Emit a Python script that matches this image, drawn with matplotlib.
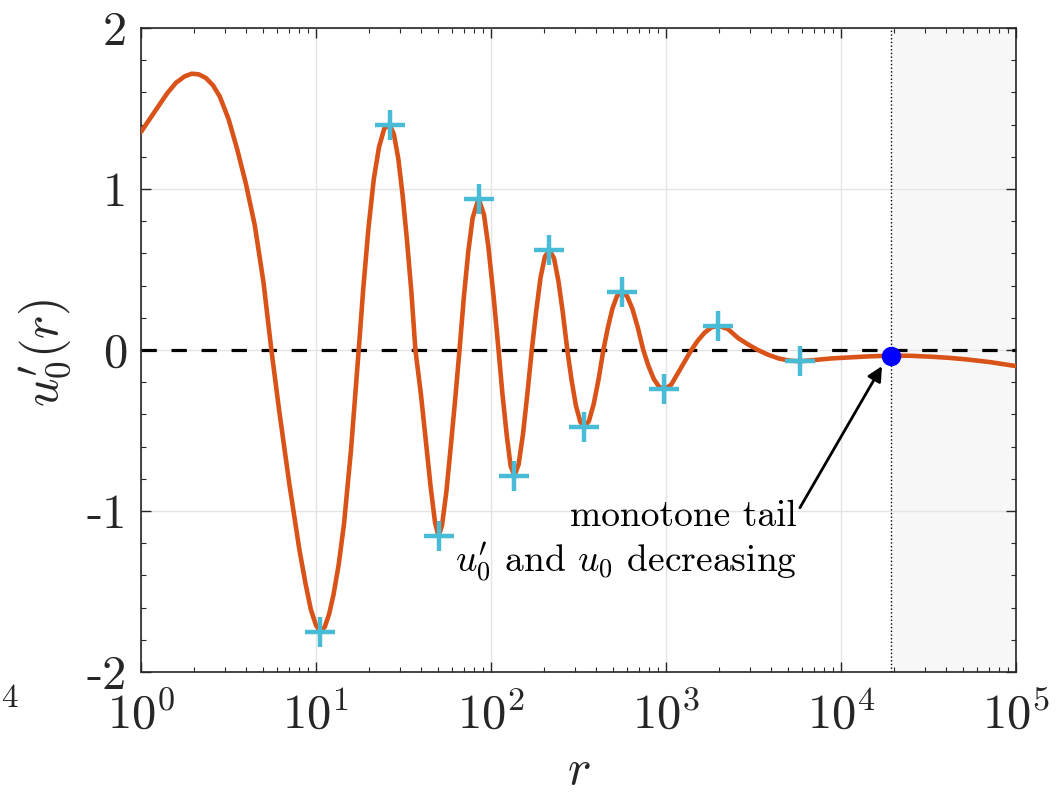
import numpy as np
import matplotlib
matplotlib.use("Agg")
import matplotlib.pyplot as plt
from matplotlib.ticker import LogLocator, MultipleLocator, NullFormatter

plt.rcParams['font.family'] = 'serif'
plt.rcParams['font.serif'] = ['cmr10']
plt.rcParams['mathtext.fontset'] = 'cm'
plt.rcParams['axes.formatter.use_mathtext'] = True
plt.rcParams['axes.unicode_minus'] = False

# curve u0'(r) (log10 r, value)
log_r = [0.000, 0.050, 0.100, 0.150, 0.200, 0.250, 0.290, 0.330, 0.370, 0.410,
         0.450, 0.500, 0.550, 0.600, 0.650, 0.700, 0.745,
         0.790, 0.848, 0.905, 0.940, 0.970, 1.000, 1.025, 1.050, 1.075, 1.100,
         1.130, 1.160, 1.200, 1.244,
         1.270, 1.300, 1.330, 1.360, 1.390, 1.420, 1.445, 1.470, 1.495, 1.520,
         1.545, 1.568,
         1.600, 1.630, 1.655, 1.680, 1.700, 1.720, 1.745, 1.770, 1.795, 1.820,
         1.845, 1.870, 1.895, 1.929, 1.960, 1.985, 2.015, 2.043,
         2.065, 2.090, 2.112, 2.134, 2.158, 2.183, 2.208, 2.233,
         2.258, 2.283, 2.308, 2.334, 2.360, 2.385, 2.410, 2.436,
         2.460, 2.485, 2.510, 2.533, 2.560, 2.587, 2.615, 2.642,
         2.668, 2.694, 2.720, 2.746, 2.777, 2.808, 2.839, 2.870,
         2.900, 2.930, 2.960, 2.990, 3.030, 3.070, 3.110, 3.145,
         3.183, 3.221, 3.259, 3.297, 3.354, 3.411, 3.468, 3.525,
         3.585, 3.645, 3.705, 3.765, 3.850, 3.950, 4.050, 4.150, 4.285,
         4.400, 4.520, 4.620, 4.713, 4.850, 5.000]
u0p = [1.354, 1.435, 1.515, 1.595, 1.660, 1.700, 1.716, 1.712, 1.690, 1.646,
       1.575, 1.435, 1.245, 1.030, 0.775, 0.420, 0.000,
       -0.380, -0.835, -1.240, -1.450, -1.610, -1.710, -1.750, -1.720, -1.640, -1.520,
       -1.330, -1.080, -0.620, 0.000,
       0.380, 0.760, 1.060, 1.260, 1.375, 1.400, 1.340, 1.190, 0.960, 0.680,
       0.360, 0.000,
       -0.280, -0.590, -0.850, -1.070, -1.156, -1.090, -0.880, -0.600, -0.310, 0.000,
       0.330, 0.610, 0.820, 0.940, 0.840, 0.640, 0.330, 0.000,
       -0.270, -0.530, -0.720, -0.780, -0.710, -0.520, -0.270, 0.000,
       0.240, 0.450, 0.580, 0.620, 0.570, 0.430, 0.235, 0.000,
       -0.185, -0.345, -0.445, -0.481, -0.440, -0.335, -0.180, 0.000,
       0.140, 0.258, 0.335, 0.363, 0.335, 0.256, 0.139, 0.000,
       -0.100, -0.180, -0.228, -0.245, -0.215, -0.140, -0.065, 0.000,
       0.060, 0.108, 0.140, 0.151, 0.130, 0.075, 0.035, 0.000,
       -0.030, -0.053, -0.066, -0.070, -0.062, -0.052, -0.046, -0.040, -0.035,
       -0.036, -0.042, -0.049, -0.058, -0.075, -0.100]

# marked extrema
ext_log_r = [1.025, 1.420, 1.700, 1.929, 2.134, 2.334, 2.533, 2.746, 2.990, 3.297, 3.765]
ext_u = [-1.750, 1.400, -1.156, 0.940, -0.780, 0.620, -0.481, 0.363, -0.245, 0.151, -0.070]

r_tail = 10 ** 4.285
u_tail = -0.035

x_ticks = [1, 10, 100, 1000, 10000, 100000]
x_labels = ['$10^{0}$', '$10^{1}$', '$10^{2}$', '$10^{3}$', '$10^{4}$', '$10^{5}$']
y_ticks = [-2, -1, 0, 1, 2]
y_labels = ['-2', '-1', '0', '1', '2']

r = 10 ** np.array(log_r)
r_ext = 10 ** np.array(ext_log_r)

fig = plt.figure(figsize=(10.61, 7.95), dpi=100)
ax = fig.add_axes([0.1329, 0.1547, 0.8247, 0.8101])

ax.axvspan(r_tail, 1e5, color='#f7f7f7', zorder=0, lw=0)
ax.axhline(0, color='k', lw=2.3, dashes=(4.8, 4.6), zorder=2)
ax.axvline(r_tail, color='k', lw=1.0, ls=':', zorder=2)
ax.plot(r, u0p, color='#D95319', lw=3.3, zorder=3,
        solid_joinstyle='round', solid_capstyle='round')
ax.plot(r_ext, ext_u, ls='none', marker='+', ms=21, mew=3.2, color='#48BBD6', zorder=4)
ax.plot([r_tail], [u_tail], 'o', ms=13, color='#0000ff', zorder=5)

ax.text(0.7497, 0.2267, 'monotone tail', transform=ax.transAxes,
        ha='right', va='baseline', fontsize=27)
ax.text(0.7497, 0.155, "$u_0'$ and $u_0$ decreasing", transform=ax.transAxes,
        ha='right', va='baseline', fontsize=27)
ax.annotate('', xy=(10 ** 4.234, -0.1), xytext=(0.753, 0.255),
            textcoords='axes fraction',
            arrowprops=dict(arrowstyle='-|>', color='k', lw=2, mutation_scale=22,
                            shrinkA=0, shrinkB=0))

ax.set_xscale('log')
ax.set_xlim(1, 1e5)
ax.set_ylim(-2, 2)
ax.set_xticks(x_ticks)
ax.set_xticklabels(x_labels)
ax.xaxis.set_minor_locator(LogLocator(base=10, subs=np.arange(2, 10), numticks=20))
ax.xaxis.set_minor_formatter(NullFormatter())
ax.set_yticks(y_ticks)
ax.set_yticklabels(y_labels)
ax.yaxis.set_minor_locator(MultipleLocator(0.2))

ax.grid(True, which='major', color='#e4e4e4', lw=1.0, zorder=1)
ax.tick_params(which='both', direction='in', top=True, right=True,
               colors='#262626', labelcolor='#262626', labelsize=35)
ax.tick_params(which='major', length=7, width=1.0)
ax.tick_params(which='minor', length=3.6, width=0.8)
ax.tick_params(axis='x', pad=15)
ax.tick_params(axis='y', pad=10)
for s in ax.spines.values():
    s.set_color('#262626')
    s.set_linewidth(1.2)

ax.set_xlabel('$r$', fontsize=36, color='#262626', va='baseline')
ax.set_ylabel("$u_0'(r)$", fontsize=36, color='#262626', va='center')
ax.xaxis.set_label_coords(0.5, -0.174)
ax.yaxis.set_label_coords(-0.11, 0.495)

fig.text(0.001, 0.121, '4', fontsize=24, va='center', ha='left', color='#262626')

fig.savefig('out.png', dpi=100)
